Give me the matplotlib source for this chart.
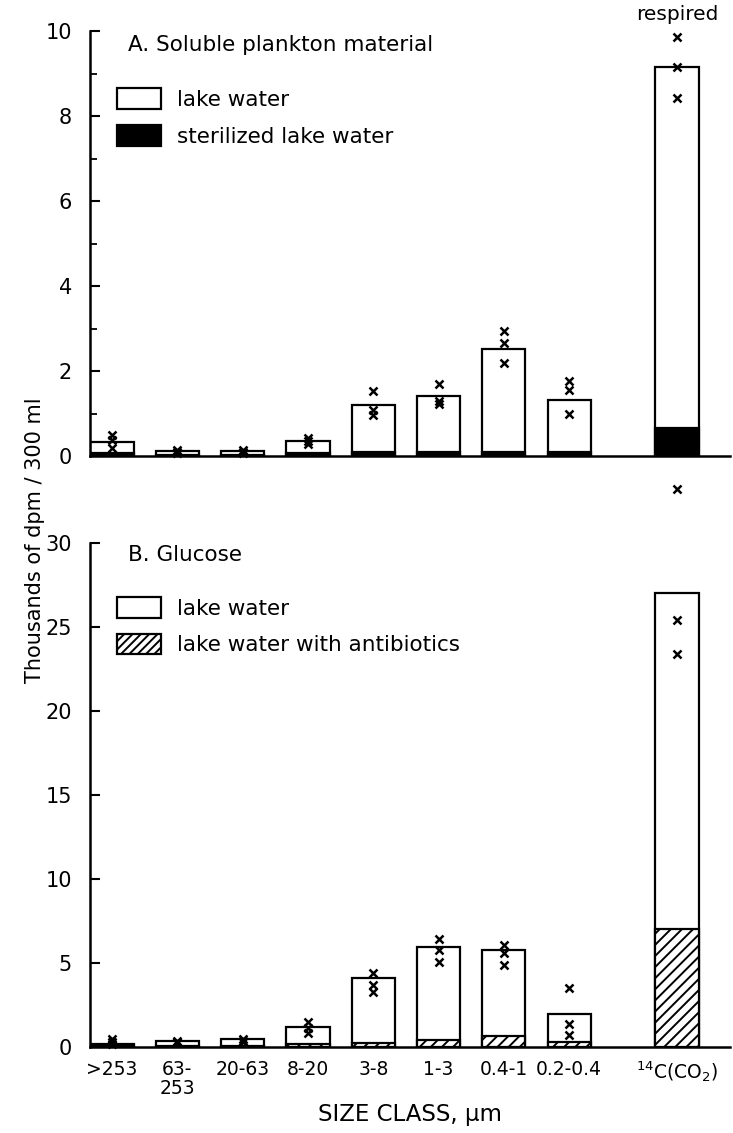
import numpy as np
import matplotlib
matplotlib.use("Agg")
import matplotlib.pyplot as plt
from matplotlib.patches import Patch
from matplotlib.ticker import MultipleLocator

plt.rcParams['font.family'] = ['DejaVu Sans']
plt.rcParams['hatch.linewidth'] = 1.4
plt.rcParams['mathtext.default'] = 'regular'

# size classes (um) and respired CO2
size_classes = ['>253', '63-\n253', '20-63', '8-20', '3-8', '1-3', '0.4-1', '0.2-0.4',
                '$^{14}$C(CO$_2$)']

# A. soluble plankton material (thousands dpm / 300 ml)
a_lake = [0.34, 0.12, 0.12, 0.35, 1.21, 1.42, 2.53, 1.32, 9.16]
a_sterile = [0.07, 0.03, 0.03, 0.06, 0.10, 0.10, 0.10, 0.10, 0.65]
a_reps = [[0.50, 0.38, 0.20], [0.14, 0.10, 0.08], [0.14, 0.10, 0.08],
          [0.42, 0.35, 0.28], [1.52, 1.08, 0.97], [1.69, 1.30, 1.22],
          [2.95, 2.67, 2.19], [1.77, 1.55, 0.99], [9.87, 9.16, 8.42]]

# B. glucose
b_lake = [0.20, 0.35, 0.45, 1.20, 4.10, 5.93, 5.75, 1.95, 27.0]
b_anti = [0.08, 0.05, 0.08, 0.20, 0.25, 0.42, 0.65, 0.32, 7.0]
b_reps = [[0.50, 0.30, 0.15], [0.35, 0.28, 0.22], [0.45, 0.35, 0.28],
          [1.50, 1.15, 0.85], [4.40, 3.70, 3.30], [6.40, 5.77, 5.08],
          [6.07, 5.60, 4.88], [3.50, 1.37, 0.71], [33.2, 25.4, 23.4]]

# bar positions: size classes evenly spaced, respired bar set apart
pos = np.append(np.arange(len(size_classes) - 1), 8.65)
width = 0.66
lw = 1.6
txt = 15.5

fig = plt.figure(figsize=(7.33, 11.33), dpi=100)
ax1 = fig.add_axes([0.1228, 0.5975, 0.873, 0.3751])
ax2 = fig.add_axes([0.1228, 0.0759, 0.873, 0.4448])


def style_axis(ax, ymax, major, minor=None):
    for s in ['top', 'right']:
        ax.spines[s].set_visible(False)
    for s in ['left', 'bottom']:
        ax.spines[s].set_linewidth(1.8)
    ax.set_xlim(-0.337, 9.46)
    ax.set_ylim(0, ymax)
    ax.yaxis.set_major_locator(MultipleLocator(major))
    if minor:
        ax.yaxis.set_minor_locator(MultipleLocator(minor))
    ax.tick_params(axis='y', which='major', direction='in', length=7, width=1.5,
                   labelsize=15, pad=13)
    ax.tick_params(axis='y', which='minor', direction='in', length=5, width=1.3)
    ax.tick_params(axis='x', length=0)


# Panel A
ax1.bar(pos, a_lake, width, color='white', edgecolor='black', linewidth=lw, zorder=2)
ax1.bar(pos, a_sterile, width, color='black', edgecolor='black', linewidth=lw, zorder=3)
for x, reps in zip(pos, a_reps):
    ax1.plot([x] * len(reps), reps, 'x', color='black', ms=6, mew=1.8,
             zorder=4, clip_on=False)
style_axis(ax1, 10, 2, 1)
ax1.set_xticks(pos)
ax1.set_xticklabels([])
ax1.text(0.059, 0.967, 'A. Soluble plankton material', transform=ax1.transAxes,
         fontsize=txt, va='center', ha='left')
ax1.text(pos[-1], 10.4, 'respired', fontsize=14.5, ha='center', va='center',
         clip_on=False)
ax1.legend(handles=[Patch(facecolor='white', edgecolor='black', linewidth=lw,
                          label='lake water'),
                    Patch(facecolor='black', edgecolor='black', linewidth=lw,
                          label='sterilized lake water')],
           loc='upper left', bbox_to_anchor=(0.042, 0.865), frameon=False,
           fontsize=txt, handlelength=2.05, handleheight=1.1, handletextpad=0.75,
           labelspacing=0.7, borderpad=0, borderaxespad=0)

# Panel B
ax2.bar(pos, b_lake, width, color='white', edgecolor='black', linewidth=lw, zorder=2)
ax2.bar(pos, b_anti, width, color='white', edgecolor='black', linewidth=lw,
        hatch='///', zorder=3)
for x, reps in zip(pos, b_reps):
    ax2.plot([x] * len(reps), reps, 'x', color='black', ms=6, mew=1.8,
             zorder=4, clip_on=False)
style_axis(ax2, 30, 5)
ax2.set_xticks(pos)
ax2.set_xticklabels(size_classes, fontsize=13.5, linespacing=1.0)
ax2.tick_params(axis='x', pad=9)
ax2.text(0.059, 0.976, 'B. Glucose', transform=ax2.transAxes,
         fontsize=txt, va='center', ha='left')
ax2.legend(handles=[Patch(facecolor='white', edgecolor='black', linewidth=lw,
                          label='lake water'),
                    Patch(facecolor='white', edgecolor='black', linewidth=lw,
                          hatch='////', label='lake water with antibiotics')],
           loc='upper left', bbox_to_anchor=(0.042, 0.893), frameon=False,
           fontsize=txt, handlelength=2.05, handleheight=1.1, handletextpad=0.75,
           labelspacing=0.7, borderpad=0, borderaxespad=0)

fig.text(0.048, 0.523, 'Thousands of dpm / 300 ml', rotation=90, fontsize=15,
         ha='center', va='center', family=['Liberation Sans Narrow', 'DejaVu Sans'])
fig.text(0.56, 0.016, 'SIZE CLASS, \u03bcm', fontsize=16.5, ha='center', va='center')

fig.savefig('out.png', dpi=100)
